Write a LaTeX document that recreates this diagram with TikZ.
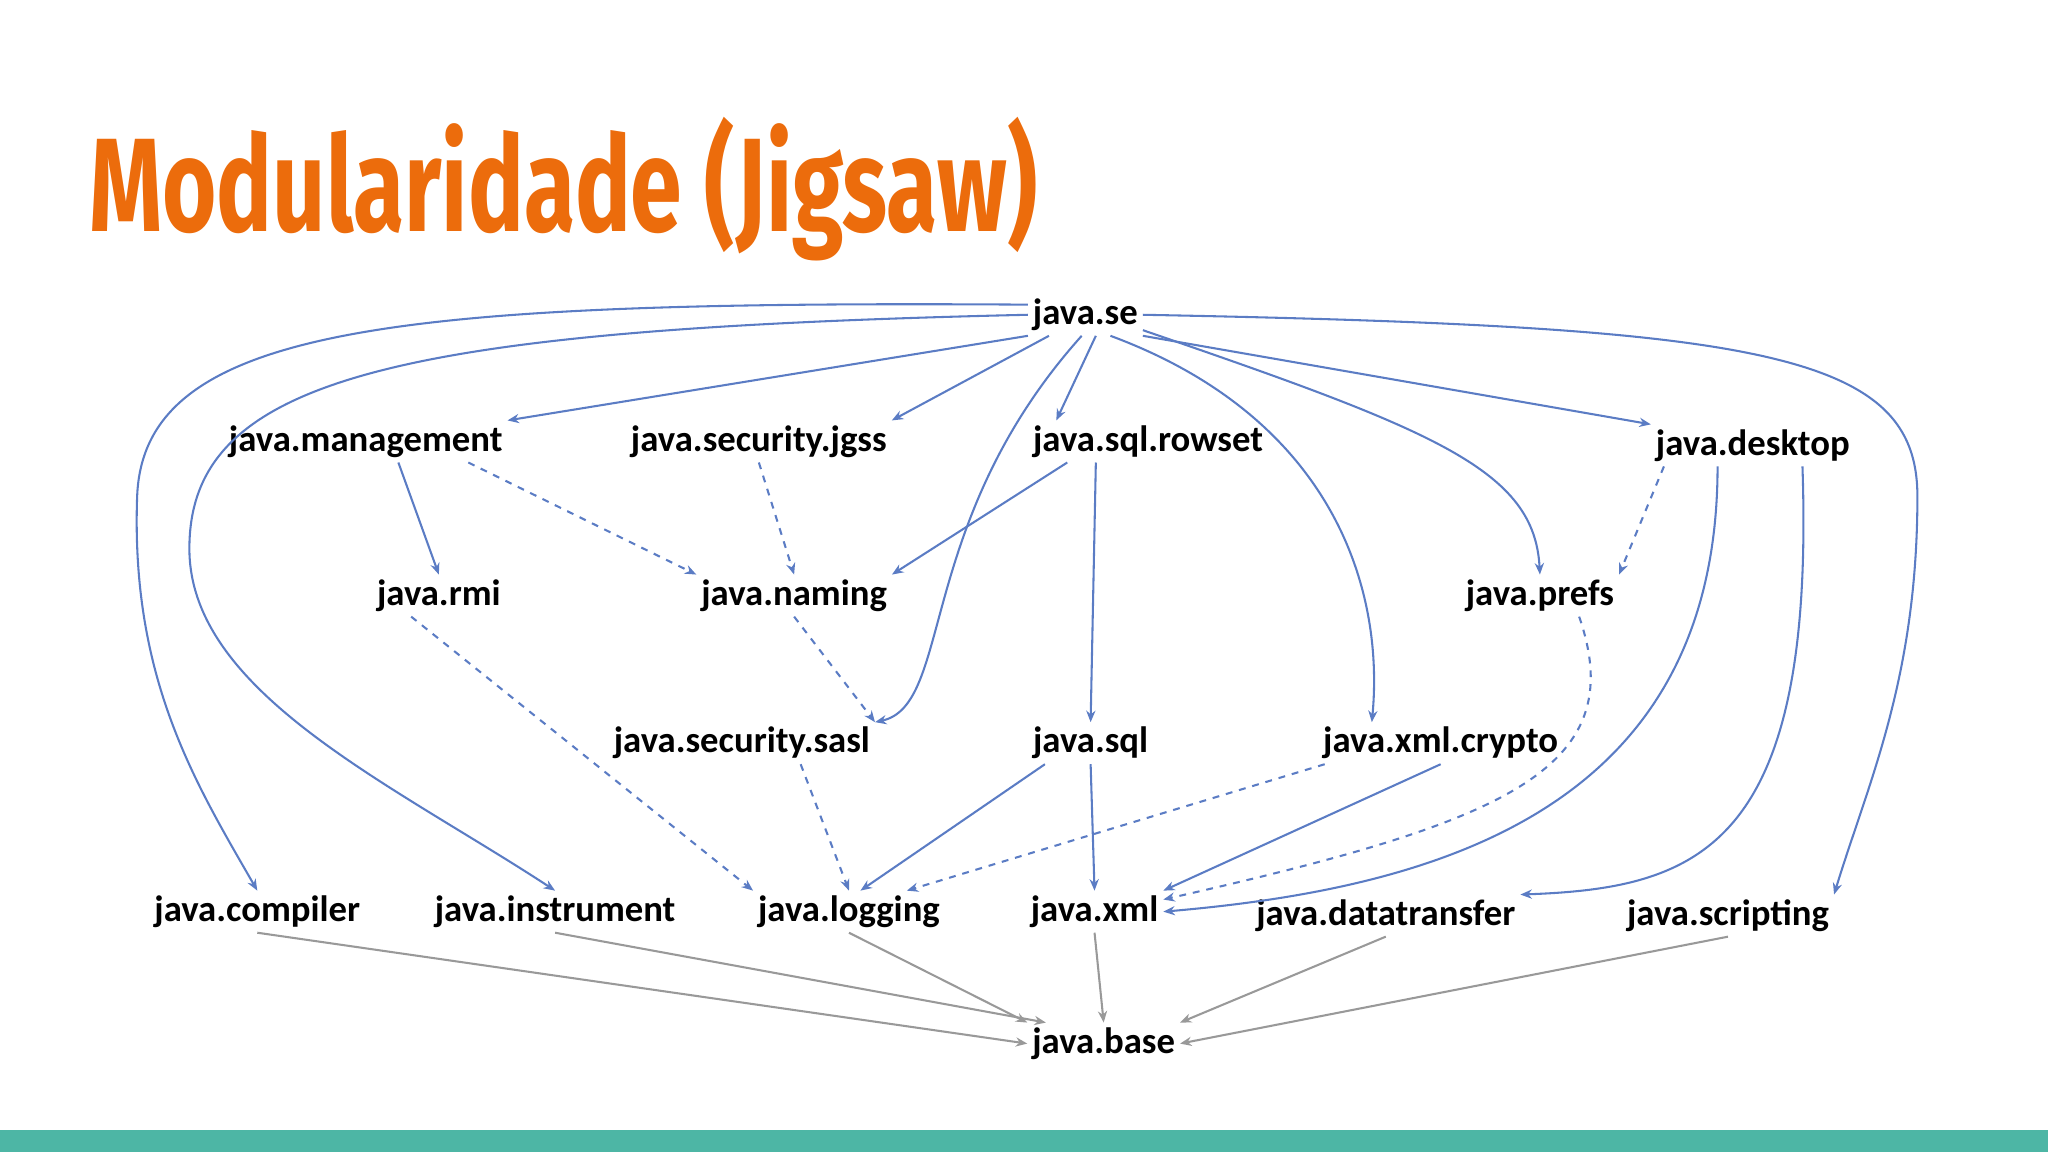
\documentclass[tikz,border=0pt]{standalone}
\usepackage{fontspec}
\setmainfont{Carlito}
\newfontfamily\titlefont{Fira Sans}
\usetikzlibrary{arrows.meta}
\definecolor{edgeblue}{HTML}{5B7CC4}
\definecolor{ttl}{HTML}{EC6C0C}
\definecolor{bar}{HTML}{4DB6A5}
\begin{document}
\begin{tikzpicture}[x=0.02cm,y=-0.02cm,
  mod/.style={font=\bfseries\fontsize{16}{18}\selectfont,inner sep=2pt},
  dep/.style={draw=edgeblue,line width=0.9pt,-{Stealth[length=5pt,width=4pt]}},
  ddep/.style={dep,dashed},
  gdep/.style={draw=gray!80,line width=0.9pt,-{Stealth[length=5pt,width=4pt]}}]
\useasboundingbox (0,0) rectangle (1568,882);
\fill[bar] (0,865) rectangle (1568,882);
\node[anchor=west,text=ttl,inner sep=0,font=\titlefont\bfseries\fontsize{58}{60}\selectfont] (title) at (68,145) {\scalebox{0.70}[1]{Modularidade (Jigsaw)}};
\node[mod] (se) at (831,241) {java.se};
\node[mod] (management) at (280,338) {java.management};
\node[mod] (jgss) at (581,338) {java.security.jgss};
\node[mod] (rowset) at (879,338) {java.sql.rowset};
\node[mod] (desktop) at (1342,341) {java.desktop};
\node[mod] (rmi) at (336,456) {java.rmi};
\node[mod] (naming) at (608,456) {java.naming};
\node[mod] (prefs) at (1179,456) {java.prefs};
\node[mod] (sasl) at (568,569) {java.security.sasl};
\node[mod] (sql) at (835,569) {java.sql};
\node[mod] (xmlcrypto) at (1103,569) {java.xml.crypto};
\node[mod] (compiler) at (197,698) {java.compiler};
\node[mod] (instrument) at (425,698) {java.instrument};
\node[mod] (logging) at (650,698) {java.logging};
\node[mod] (xml) at (838,698) {java.xml};
\node[mod] (datatransfer) at (1061,701) {java.datatransfer};
\node[mod] (scripting) at (1323,701) {java.scripting};
\node[mod] (base) at (845,799) {java.base};
% from java.se
\draw[dep] (se.170) .. controls (300,230) and (110,250) .. (105,380) .. controls (100,520) and (150,600) .. (compiler.north);
\draw[dep] (se.west) .. controls (300,252) and (145,290) .. (145,420) .. controls (145,530) and (300,600) .. (instrument.north);
\draw[dep] (se.east) .. controls (1350,250) and (1468,270) .. (1468,380) .. controls (1468,520) and (1430,600) .. (scripting.north east);
\draw[dep] (se.south west) -- (management.north east);
\draw[dep] (se.-150) -- (jgss.north east);
\draw[dep] (se.south) ++(8,0) -- ([xshift=-40pt]rowset.north);
\draw[dep] (se.south east) -- (desktop.north west);
\draw[dep] (se.-100) .. controls (700,400) and (730,540) .. (sasl.north east);
\draw[dep] (se.-40) .. controls (1020,320) and (1060,450) .. ([xshift=-30pt]xmlcrypto.north);
\draw[dep] (se.-15) .. controls (1100,330) and (1175,360) .. (prefs.north);
% others
\draw[dep] (management.south) ++(25,0) -- (rmi.north);
\draw[ddep] (management.south east) ++(-30,0) -- (naming.north west);
\draw[ddep] (jgss.south) -- (naming.north);
\draw[dep] (rowset.south west) ++(30,0) -- (naming.north east);
\draw[dep] (rowset.south) ++(-40,0) -- (sql.north);
\draw[ddep] (desktop.south west) ++(10,0) -- (prefs.north east);
\draw[dep] (desktop.south) ++(-27,0) .. controls (1315,620) and (1100,680) .. (xml.east);
\draw[dep] (desktop.south) ++(38,0) .. controls (1390,650) and (1300,680) .. (datatransfer.north east);
\draw[ddep] (naming.south) -- (sasl.north east);
\draw[ddep] (rmi.south west) ++(30,0) -- (logging.north west);
\draw[ddep] (sasl.south) ++(45,0) -- (logging.north);
\draw[dep] (sql.south) ++(-35,0) -- ([xshift=5pt]logging.north);
\draw[dep] (sql.south) -- (xml.north);
\draw[ddep] (xmlcrypto.south west) ++(5,0) -- (logging.20);
\draw[dep] (xmlcrypto.south) -- (xml.north east);
\draw[ddep] (prefs.south) ++(30,0) .. controls (1250,590) and (1150,630) .. (xml.10);
% to base
\draw[gdep] (compiler.south) -- (base.west);
\draw[gdep] (instrument.south) -- (base.160);
\draw[gdep] (logging.south) -- (base.north west);
\draw[gdep] (xml.south) -- (base.north);
\draw[gdep] (datatransfer.south) -- (base.north east);
\draw[gdep] (scripting.south) -- (base.east);
\end{tikzpicture}
\end{document}
